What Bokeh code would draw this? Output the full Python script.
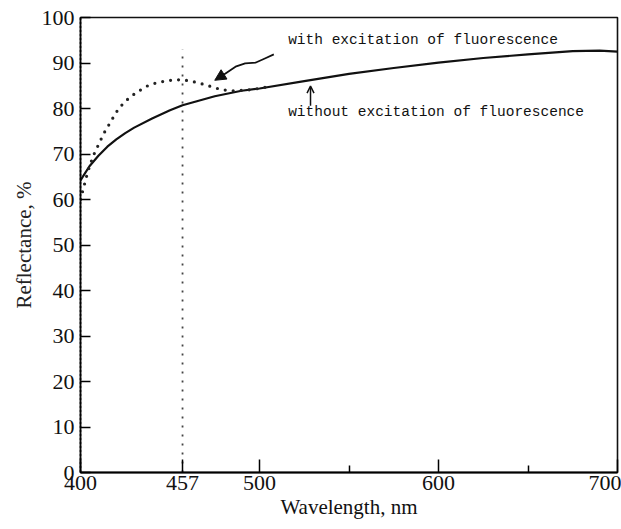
from bokeh.plotting import figure
from bokeh.models import Range1d, FixedTicker, Label, Arrow, NormalHead, OpenHead
from bokeh.embed import file_html
from bokeh.resources import INLINE

# --- data ---
wl_without = [400, 405, 410, 415, 420, 425, 430, 440, 450, 457, 465, 475, 490, 500,
              525, 550, 575, 600, 625, 650, 675, 690, 700]
refl_without = [64.2, 67.3, 69.6, 71.6, 73.2, 74.6, 75.8, 77.8, 79.6, 80.7, 81.6, 82.7,
                83.9, 84.4, 86.0, 87.6, 88.9, 90.1, 91.1, 91.9, 92.6, 92.7, 92.5]

wl_with = [400, 402, 404, 407, 410, 413, 416, 420, 424, 428, 432, 437, 442, 448, 453,
           457, 462, 468, 474, 479, 485, 492, 498, 505]
refl_with = [60.0, 63.0, 66.0, 69.5, 72.0, 74.5, 76.5, 79.2, 81.2, 82.6, 83.7, 84.9,
             85.6, 86.1, 86.3, 86.3, 86.0, 85.4, 84.7, 84.1, 83.9, 84.0, 84.3, 84.8]

x_major_ticks = [400, 457, 500, 600, 700]
x_minor_ticks = [550, 650]
y_ticks = [0, 10, 20, 30, 40, 50, 60, 70, 80, 90, 100]

marker_wl = 457
marker_top = 93

label_with = "with excitation of fluorescence"
label_without = "without excitation of fluorescence"

# annotation geometry (data space)
wavy_x = [508, 503, 498, 492, 486.6, 481, 477]
wavy_y = [91.9, 91.0, 90.1, 89.9, 89.2, 87.7, 86.7]
wavy_tip = (475, 86.2)
up_arrow_x = 528.5
up_arrow_y = (80.6, 84.9)

SERIF = "Liberation Serif"
MONO = "Liberation Mono"

p = figure(width=621, height=529, output_backend="svg", toolbar_location=None,
           x_range=Range1d(400, 700), y_range=Range1d(0, 100),
           min_border_left=80, min_border_right=4, min_border_top=17, min_border_bottom=57)
p.background_fill_color = "white"
p.border_fill_color = "white"
p.outline_line_color = "#111111"
p.outline_line_width = 1.6
p.xgrid.visible = False
p.ygrid.visible = False

# axes
p.xaxis.ticker = FixedTicker(ticks=x_major_ticks, minor_ticks=x_minor_ticks)
p.xaxis.major_tick_in = 13
p.xaxis.major_tick_out = 0
p.xaxis.minor_tick_in = 7
p.xaxis.minor_tick_out = 0
p.xaxis.major_tick_line_width = 1.5
p.xaxis.minor_tick_line_width = 1.5
p.xaxis.axis_line_width = 1.8
p.xaxis.major_label_text_font = SERIF
p.xaxis.major_label_text_font_size = "22px"
p.xaxis.major_label_text_color = "#111111"
p.xaxis.major_label_standoff = 3
p.xaxis.axis_label = "Wavelength, nm"
p.xaxis.axis_label_text_font = SERIF
p.xaxis.axis_label_text_font_size = "21px"
p.xaxis.axis_label_text_font_style = "normal"
p.xaxis.axis_label_text_color = "#111111"
p.xaxis.axis_label_standoff = 2

p.yaxis.ticker = FixedTicker(ticks=y_ticks, minor_ticks=[])
p.yaxis.major_tick_in = 10
p.yaxis.major_tick_out = 0
p.yaxis.major_tick_line_width = 1.5
p.yaxis.axis_line_width = 1.8
p.yaxis.axis_line_dash = "3 1"
p.yaxis.major_label_text_font = SERIF
p.yaxis.major_label_text_font_size = "22px"
p.yaxis.major_label_text_color = "#111111"
p.yaxis.major_label_standoff = 6
p.yaxis.axis_label = "Reflectance, %"
p.yaxis.axis_label_text_font = SERIF
p.yaxis.axis_label_text_font_size = "21px"
p.yaxis.axis_label_text_font_style = "normal"
p.yaxis.axis_label_text_color = "#222222"
p.yaxis.axis_label_standoff = 3

# vertical marker at 457 nm
p.segment(x0=[marker_wl], y0=[0], x1=[marker_wl], y1=[marker_top],
          line_color="#444444", line_width=1.8, line_dash="2 7")

# curves
p.line(wl_without, refl_without, line_color="#111111", line_width=2.2)
p.line(wl_with, refl_with, line_color="#222222", line_width=3.2, line_dash="0 8",
       line_cap="round")

# annotation texts
p.add_layout(Label(x=516, y=95, text=label_with, text_font=MONO, text_font_size="14.5px",
                   text_align="left", text_baseline="middle", text_color="#111111"))
p.add_layout(Label(x=516, y=79.2, text=label_without, text_font=MONO,
                   text_font_size="14.5px", text_align="left",
                   text_baseline="middle", text_color="#111111"))

# wavy arrow towards the dotted curve
p.line(wavy_x, wavy_y, line_color="#111111", line_width=1.8)
p.add_layout(Arrow(end=NormalHead(size=11, fill_color="#111111", line_color="#111111"),
                   x_start=wavy_x[-1], y_start=wavy_y[-1], x_end=wavy_tip[0], y_end=wavy_tip[1],
                   line_color="#111111", line_width=1.8))

# small upward arrow towards the solid curve
p.add_layout(Arrow(end=OpenHead(size=7, line_color="#111111", line_width=1.5),
                   x_start=up_arrow_x, y_start=up_arrow_y[0], x_end=up_arrow_x,
                   y_end=up_arrow_y[1], line_color="#111111", line_width=1.5))

open("out.html", "w").write(file_html(p, INLINE))
